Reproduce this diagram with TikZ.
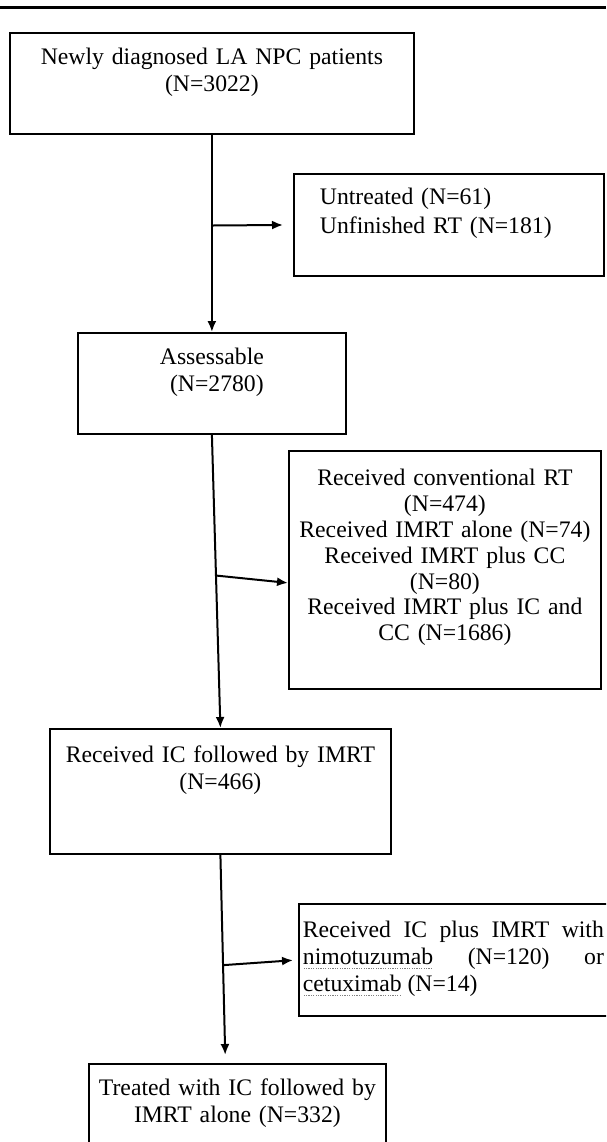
\documentclass[tikz,border=0pt]{standalone}
\usepackage{fontspec}
\setmainfont{Liberation Serif}
\usetikzlibrary{arrows.meta}
\newcommand{\spellmark}[1]{\leavevmode\setbox0\hbox{#1}\rlap{\raisebox{-4pt}{\color{gray}\hbox to\wd0{\leaders\hbox to 2.4pt{\hss\rule{1.2pt}{1.2pt}\hss}\hfill}}}\box0\relax}

\begin{document}
\begin{tikzpicture}[x=1pt,y=-1pt,
    box/.style={draw,line width=1.8pt,anchor=north west,inner xsep=0pt,inner ysep=0pt,
      align=center,font=\fontsize{23.7}{27}\selectfont},
    flow/.style={line width=2pt,-{Latex[length=11pt,width=9pt]}}]
\useasboundingbox (0,0) rectangle (606,1142);
\clip (0,0) rectangle (606,1142);
\draw[line width=3pt] (0,8) -- (606,8);
\node[box,text width=404pt,text height=32pt,text depth=69pt] (new) at (9,32)
  {Newly diagnosed LA NPC patients\\(N=3022)};
\node[box,align=left,inner xsep=26pt,text width=258pt,text height=31pt,text depth=71pt,
  font=\fontsize{23.7}{29}\selectfont] (unt) at (293,173)
  {Untreated (N=61)\\Unfinished RT (N=181)};
\node[box,text width=268pt,text height=32pt,text depth=69pt] (ass) at (77,332)
  {Assessable\\\hspace*{10pt}(N=2780)};
\node[box,text width=312pt,text height=35pt,text depth=203pt,
  font=\fontsize{23.7}{25.8}\selectfont] (rec) at (288,450)
  {Received conventional RT\\(N=474)\\Received IMRT alone (N=74)\\Received IMRT plus CC\\(N=80)\\Received IMRT plus IC and\\CC (N=1686)};
\node[box,text width=341pt,text height=34pt,text depth=91pt] (icimrt) at (49,728)
  {Received IC followed by IMRT\\(N=466)};
\node[box,align=justify,inner xsep=4pt,text width=301pt,text height=34pt,text depth=78pt] (pat) at (298,903)
  {\tolerance=10000 Received IC plus IMRT with\linebreak \spellmark{nimotuzumab} (N=120) or\linebreak \spellmark{cetuximab} (N=14)};
\node[box,text width=297pt,text height=32pt,text depth=80pt] (trt) at (88,1063)
  {Treated with IC followed by\\IMRT alone (N=332)};
\draw[flow] (new.south) -- coordinate[pos=0.46] (j1) (ass.north);
\draw[flow,shorten >=10pt] (j1) -- (unt.west);
\draw[flow] (ass.south) -- coordinate[pos=0.48] (j2) (icimrt.north);
\draw[flow] (j2) -- ([yshift=-13pt]rec.west);
\draw[flow,shorten >=8pt] (icimrt.south) -- coordinate[pos=0.53] (j3) ([xshift=-12pt]trt.north);
\draw[flow,shorten >=5pt] (j3) -- (pat.west);
\end{tikzpicture}
\end{document}
